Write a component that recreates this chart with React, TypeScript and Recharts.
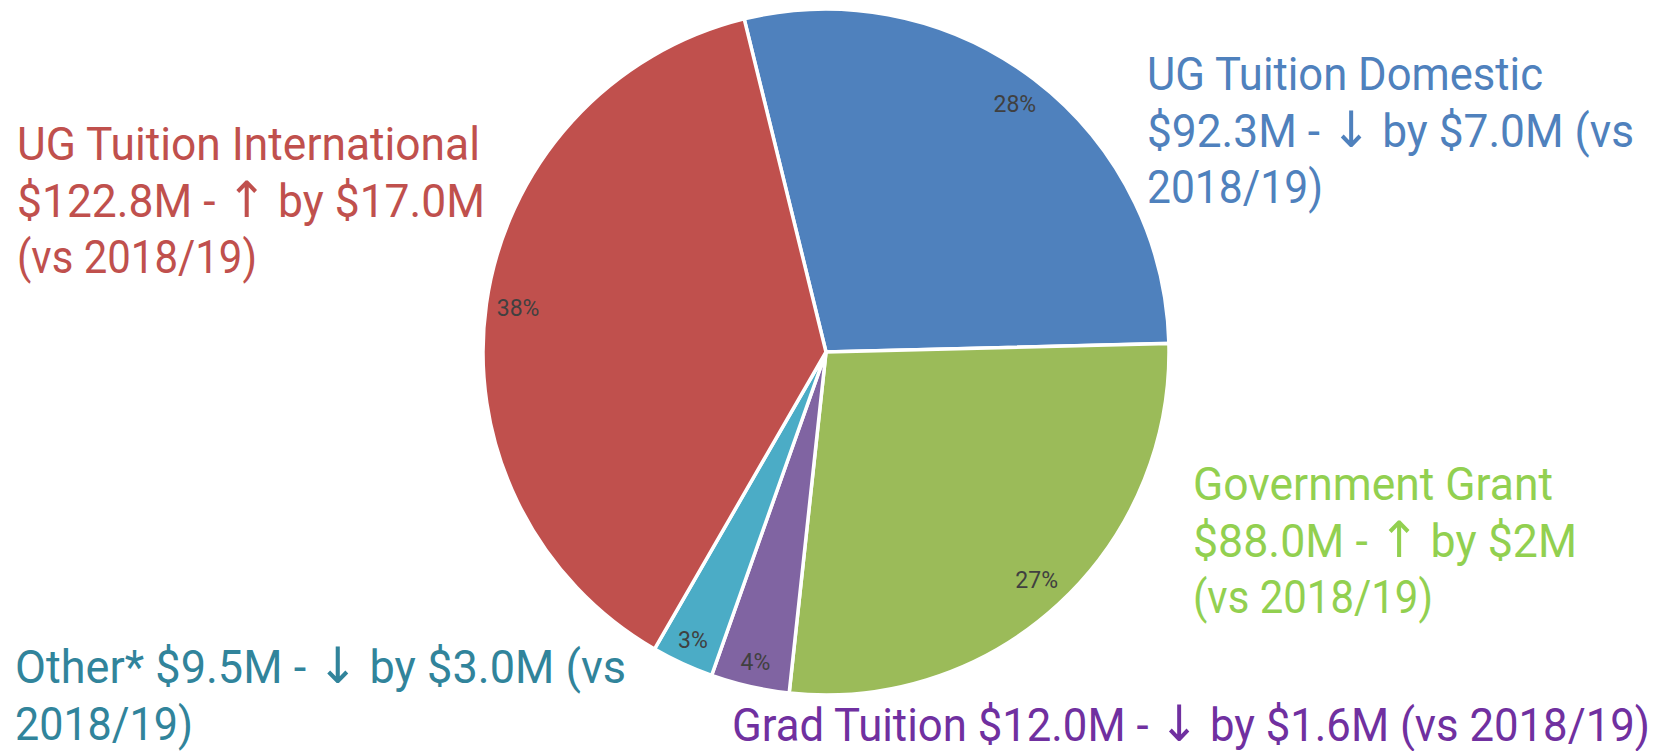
import React from "react";
import { PieChart, Pie, Cell } from "recharts";

// Revenue breakdown 2019/20 ($M), clockwise from the top
const categories = ["UG Tuition Domestic", "Government Grant", "Grad Tuition", "Other*", "UG Tuition International"];
const revenue = [92.3, 88.0, 12.0, 9.5, 122.8];
const sliceColors = ["#4F81BD", "#9BBB59", "#8064A2", "#4BACC6", "#C0504D"];
const textColors = ["#4F81BD", "#92D050", "#7030A0", "#31849B", "#C0504D"];

// callout text, one entry per line
const calloutLines = [
  ["UG Tuition Domestic", "$92.3M - \u2193 by $7.0M (vs", "2018/19)"],
  ["Government Grant", "$88.0M - \u2191 by $2M", "(vs 2018/19)"],
  ["Grad Tuition $12.0M - \u2193 by $1.6M (vs 2018/19)"],
  ["Other* $9.5M - \u2193 by $3.0M (vs", "2018/19)"],
  ["UG Tuition International", "$122.8M - \u2191 by $17.0M", "(vs 2018/19)"],
];

// where each callout sits: left x, first baseline, line widths
const calloutLayout = [
  { x: 1147, y: 90, widths: [396, 487, 176] },
  { x: 1193, y: 500, widths: [360, 384, 240] },
  { x: 732, y: 741, widths: [918] },
  { x: 15, y: 683, widths: [611, 178] },
  { x: 17, y: 160, widths: [463, 468, 240] },
];

const W = 1679;
const H = 751;
const LINE_GAP = 56.5;
const FONT = "Roboto, 'Noto Sans', sans-serif";
const ARROW_FONT = "'DejaVu Sans', sans-serif";

const data = categories.map((name, i) => ({ name, value: revenue[i] }));

const RAD = Math.PI / 180;

function renderPct(props: any) {
  const { cx, cy, midAngle, outerRadius, percent } = props;
  const r = outerRadius - (percent < 0.05 ? 25 : 32);
  const x = cx + r * Math.cos(-midAngle * RAD);
  const y = cy + r * Math.sin(-midAngle * RAD);
  return (
    <text
      x={x}
      y={y}
      fill="#404040"
      fontSize={23}
      fontFamily={FONT}
      textAnchor="middle"
      dominantBaseline="central"
    >
      {`${Math.round(percent * 100)}%`}
    </text>
  );
}

// split out the arrows so they can use a font with full-size arrow glyphs
function lineParts(t: string) {
  return t.split(/([\u2191\u2193])/).map((p, k) =>
    p === "\u2191" || p === "\u2193" ? (
      <tspan key={k} fontFamily={ARROW_FONT} fontSize={50}>
        {p}
      </tspan>
    ) : (
      <tspan key={k}>{p}</tspan>
    )
  );
}

export default function App() {
  const start = 103.8;
  return (
    <div style={{ position: "absolute", left: 0, top: 0, width: W, height: H, background: "#fff" }}>
      <PieChart width={W} height={H} margin={{ top: 0, right: 0, bottom: 0, left: 0 }}>
        <Pie
          data={data}
          dataKey="value"
          nameKey="name"
          cx={826}
          cy={352}
          outerRadius={343}
          startAngle={start}
          endAngle={start - 360}
          stroke="#fff"
          strokeWidth={3.5}
          label={renderPct}
          labelLine={false}
          isAnimationActive={false}
        >
          {data.map((d, i) => (
            <Cell key={d.name} fill={sliceColors[i]} />
          ))}
        </Pie>
      </PieChart>
      <svg width={W} height={H} style={{ position: "absolute", left: 0, top: 0, pointerEvents: "none" }}>
        {calloutLines.map((lines, i) => {
          const lay = calloutLayout[i];
          return (
            <g key={categories[i]} fill={textColors[i]} fontFamily={FONT} fontSize={46}>
              {lines.map((t, j) => (
                <text
                  key={j}
                  x={lay.x}
                  y={lay.y + j * LINE_GAP}
                  textLength={lay.widths[j]}
                  lengthAdjust="spacingAndGlyphs"
                >
                  {lineParts(t)}
                </text>
              ))}
            </g>
          );
        })}
      </svg>
    </div>
  );
}
